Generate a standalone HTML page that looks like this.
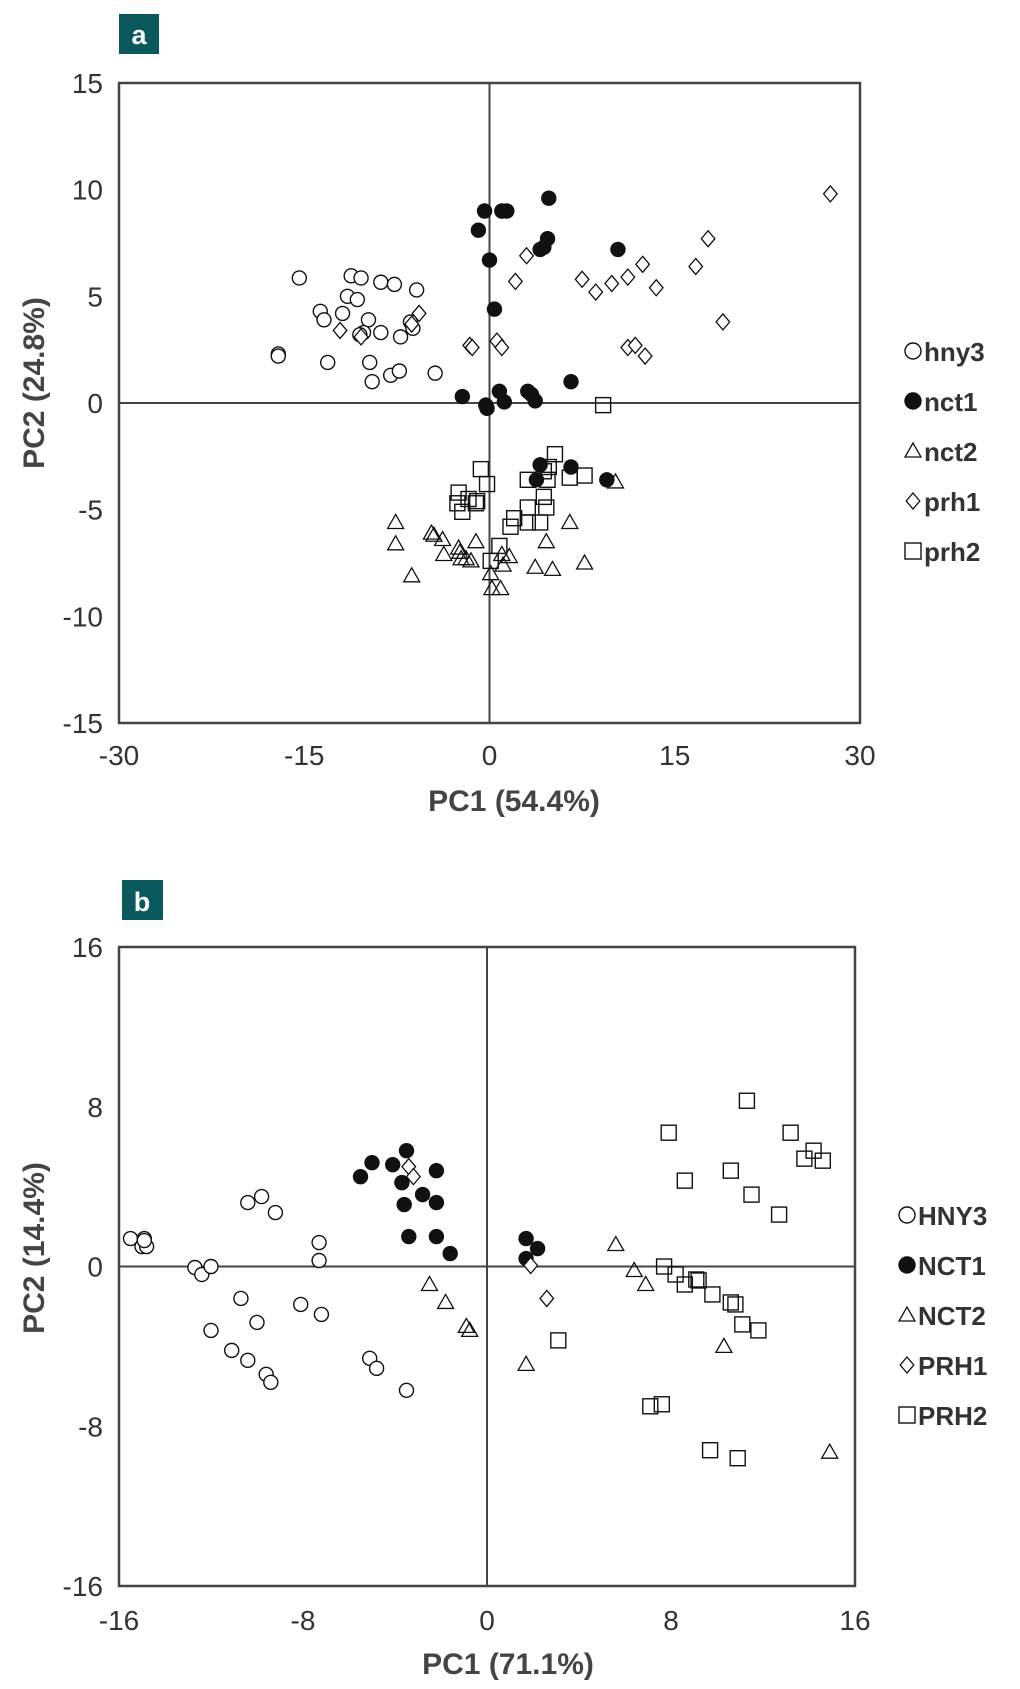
<!DOCTYPE html>
<html><head><meta charset="utf-8">
<style>
html,body{margin:0;padding:0;background:#fff;}
svg{display:block;font-family:"Liberation Sans",Arial,sans-serif;}
.tick{font-size:28px;fill:#333;}
.ttl{font-size:30px;font-weight:bold;fill:#444;}
.leg{font-size:26px;font-weight:bold;fill:#333;}
</style></head>
<body>
<svg id="chart" width="1020" height="1689" viewBox="0 0 1020 1689">
<rect x="119" y="14" width="40" height="40" fill="#08585c"/>
<text x="139" y="44" text-anchor="middle" font-size="27" font-weight="bold" fill="#fff">a</text>
<rect x="122" y="880" width="41" height="40" fill="#08585c"/>
<text x="142" y="911" text-anchor="middle" font-size="27" font-weight="bold" fill="#fff">b</text>
<g id="pa"></g>
<g id="pb"></g>
</svg>
<script>
// ---- Panel a data ----
const aHny3X=[-15.4,-11.2,-10.4,-8.8,-7.7,-5.9,-11.5,-10.7,-13.7,-13.4,-11.9,-9.8,-10.2,-10.5,-8.8,-7.2,-6.4,-6.2,-17.1,-17.1,-13.1,-9.7,-9.5,-8.0,-7.3,-4.4];
const aHny3Y=[5.86,5.96,5.86,5.66,5.56,5.3,5.0,4.85,4.3,3.9,4.2,3.9,3.3,3.2,3.3,3.1,3.8,3.5,2.3,2.2,1.9,1.9,1.0,1.3,1.5,1.4];
const aNct1X=[-0.4,1.0,1.4,4.8,-0.9,4.7,4.4,4.1,10.4,0.0,0.4,6.6,-2.2,0.8,3.1,3.4,-0.3,-0.2,1.2,3.7,4.1,6.6,3.8,9.5];
const aNct1Y=[9.0,9.0,9.0,9.6,8.1,7.7,7.3,7.2,7.2,6.7,4.4,1.0,0.3,0.55,0.55,0.4,-0.1,-0.25,0.05,0.1,-2.9,-3.0,-3.6,-3.6];
const aNct2X=[-7.6,-7.6,-6.3,-4.7,-4.5,-3.8,-3.7,-2.5,-2.3,-1.9,-1.1,-1.5,0.1,0.2,0.9,1.1,1.6,3.7,5.1,4.6,6.5,7.7,10.2,1.0,-2.4];
const aNct2Y=[-5.6,-6.6,-8.1,-6.1,-6.2,-6.4,-7.1,-6.8,-7.3,-7.3,-6.5,-7.4,-8.0,-8.7,-8.7,-7.6,-7.2,-7.7,-7.8,-6.5,-5.6,-7.5,-3.7,-7.1,-7.0];
const aPrh1X=[27.6,17.7,3.0,12.4,7.5,9.9,11.2,8.6,13.5,16.7,2.1,18.9,-5.7,-6.3,-12.1,-1.6,-1.4,0.6,1.0,11.2,11.8,12.6,-10.4];
const aPrh1Y=[9.8,7.7,6.9,6.5,5.8,5.6,5.9,5.2,5.4,6.4,5.7,3.8,4.2,3.7,3.4,2.7,2.6,2.9,2.6,2.6,2.7,2.2,3.1];
const aPrh2X=[9.2,5.3,-0.7,-0.2,-2.5,-2.6,-1.7,-1.0,-2.2,-1.1,2.0,1.7,0.8,0.1,3.1,4.7,6.5,7.7,3.1,4.6,3.1,4.1,4.4,4.4,4.8];
const aPrh2Y=[-0.1,-2.4,-3.1,-3.8,-4.2,-4.7,-4.5,-4.6,-5.1,-4.7,-5.4,-5.8,-6.7,-7.4,-3.6,-3.6,-3.5,-3.4,-4.9,-4.9,-5.6,-5.6,-4.4,-3.2,-3.0];
const aXTicks=[-30,-15,0,15,30];
const aYTicks=[15,10,5,0,-5,-10,-15];
const aLegend=["hny3","nct1","nct2","prh1","prh2"];
// ---- Panel b data ----
const bHny3X=[-15.5,-14.9,-15.0,-14.8,-14.9,-12.7,-12.4,-12.0,-10.4,-9.8,-9.2,-7.3,-7.3,-10.7,-10.0,-12.0,-8.1,-7.2,-11.1,-10.4,-9.6,-9.4,-5.1,-4.8,-3.5];
const bHny3Y=[1.4,1.4,1.0,1.0,1.3,-0.05,-0.4,0.0,3.2,3.5,2.7,1.2,0.3,-1.6,-2.8,-3.2,-1.9,-2.4,-4.2,-4.7,-5.4,-5.8,-4.6,-5.1,-6.2];
const bNct1X=[-3.5,-5.0,-4.1,-5.5,-2.2,-3.7,-2.8,-3.6,-2.2,-3.4,-2.2,-1.6,1.7,2.2,1.7];
const bNct1Y=[5.8,5.2,5.1,4.5,4.8,4.2,3.6,3.1,3.2,1.5,1.5,0.65,1.4,0.9,0.4];
const bNct2X=[-2.5,-1.8,-0.9,-0.75,1.7,5.6,6.4,6.9,10.3,14.9];
const bNct2Y=[-0.9,-1.8,-3.0,-3.2,-4.9,1.1,-0.2,-0.9,-4.0,-9.3];
const bPrh1X=[-3.4,-3.2,1.9,2.6];
const bPrh1Y=[5.0,4.5,0.05,-1.6];
const bPrh2X=[11.3,7.9,13.2,14.2,13.8,14.6,8.6,10.6,11.5,12.7,7.7,8.2,8.6,9.1,9.2,9.8,10.6,10.8,11.1,11.8,3.1,7.1,7.6,9.7,10.9];
const bPrh2Y=[8.3,6.7,6.7,5.8,5.4,5.3,4.3,4.8,3.6,2.6,0.0,-0.4,-0.9,-0.65,-0.7,-1.4,-1.8,-1.9,-2.9,-3.2,-3.7,-7.0,-6.9,-9.2,-9.6];
const bXTicks=[-16,-8,0,8,16];
const bYTicks=[16,8,0,-8,-16];
const bLegend=["HNY3","NCT1","NCT2","PRH1","PRH2"];

const NS="http://www.w3.org/2000/svg";
function mk(tag,attrs,parent){const e=document.createElementNS(NS,tag);for(const k in attrs)e.setAttribute(k,attrs[k]);parent.appendChild(e);return e;}
function marker(g,shape,cx,cy,r){
  let e;
  if(shape==="circle"||shape==="filled"){e=mk("circle",{cx:cx,cy:cy,r:r,fill:shape==="filled"?"#111":"#fff",stroke:"#111","stroke-width":1.4},g);}
  else if(shape==="tri"){e=mk("polygon",{points:`${cx},${cy-r} ${cx-r},${cy+r*0.75} ${cx+r},${cy+r*0.75}`,fill:"none",stroke:"#111","stroke-width":1.3},g);}
  else if(shape==="dia"){e=mk("polygon",{points:`${cx},${cy-r} ${cx+r*0.85},${cy} ${cx},${cy+r} ${cx-r*0.85},${cy}`,fill:"#fff",stroke:"#111","stroke-width":1.3},g);}
  else {e=mk("rect",{x:cx-r,y:cy-r,width:2*r,height:2*r,fill:"none",stroke:"#111","stroke-width":1.4},g);}
  return e;
}
function panel(g,cfg){
  const sx=v=>cfg.L+(v-cfg.xmin)/(cfg.xmax-cfg.xmin)*(cfg.R-cfg.L);
  const sy=v=>cfg.B-(v-cfg.ymin)/(cfg.ymax-cfg.ymin)*(cfg.B-cfg.T);
  const frame=mk("rect",{x:cfg.L,y:cfg.T,width:cfg.R-cfg.L,height:cfg.B-cfg.T,fill:"none",stroke:"#444","stroke-width":2.5},g);
  
  
  const vz=mk("line",{x1:sx(0),x2:sx(0),y1:cfg.T,y2:cfg.B,stroke:"#444","stroke-width":2},g);
  
  
  const hz=mk("line",{x1:cfg.L,x2:cfg.R,y1:sy(0),y2:sy(0),stroke:"#444","stroke-width":2},g);
  
  
  cfg.xt.forEach(v=>{const t=mk("text",{x:sx(v),y:cfg.xtY,"text-anchor":"middle",class:"tick"},g);t.textContent=v;
    
    });
  cfg.yt.forEach(v=>{const t=mk("text",{x:103,y:sy(v)+10,"text-anchor":"end",class:"tick"},g);t.textContent=v;
    
    });
  const xt=mk("text",{x:cfg.xtitleX,y:cfg.xtitleY,"text-anchor":"middle",class:"ttl"},g);xt.textContent=cfg.xtitle;
  
  
  const yt=mk("text",{x:0,y:0,"text-anchor":"middle",class:"ttl",transform:`translate(44,${cfg.ytitleY}) rotate(-90)`},g);yt.textContent=cfg.ytitle;
  
  
  const shapes=["circle","filled","tri","dia","sq"];
  const rs=[7,7,8,8,7.5];
  const lrs=[8,8,8,8,8];
  cfg.series.forEach((s,i)=>{
    s[0].forEach((x,j)=>{const m=marker(g,shapes[i],sx(x),sy(s[1][j]),rs[i]);
      
      });
    const ly=cfg.legY+i*50;
    const lm=marker(g,shapes[i],cfg.legX,ly,lrs[i]);
    
    
    const lt=mk("text",{x:cfg.legX+11,y:ly+10,class:"leg"},g);lt.textContent=cfg.legend[i];
    
    
  });
}
panel(document.getElementById("pa"),{L:119,R:860,T:83,B:723,xmin:-30,xmax:30,ymin:-15,ymax:15,xt:aXTicks,yt:aYTicks,xtY:765,
  xtitle:"PC1 (54.4%)",xtitleX:514,xtitleY:811,ytitle:"PC2 (24.8%)",ytitleY:383,legend:aLegend,legX:913,legY:351,
  series:[[aHny3X,aHny3Y],[aNct1X,aNct1Y],[aNct2X,aNct2Y],[aPrh1X,aPrh1Y],[aPrh2X,aPrh2Y]]});
panel(document.getElementById("pb"),{L:119,R:855,T:947,B:1586,xmin:-16,xmax:16,ymin:-16,ymax:16,xt:bXTicks,yt:bYTicks,xtY:1630,
  xtitle:"PC1 (71.1%)",xtitleX:508,xtitleY:1674,ytitle:"PC2 (14.4%)",ytitleY:1248,legend:bLegend,legX:907,legY:1215,
  series:[[bHny3X,bHny3Y],[bNct1X,bNct1Y],[bNct2X,bNct2Y],[bPrh1X,bPrh1Y],[bPrh2X,bPrh2Y]]});
</script>
</body></html>
